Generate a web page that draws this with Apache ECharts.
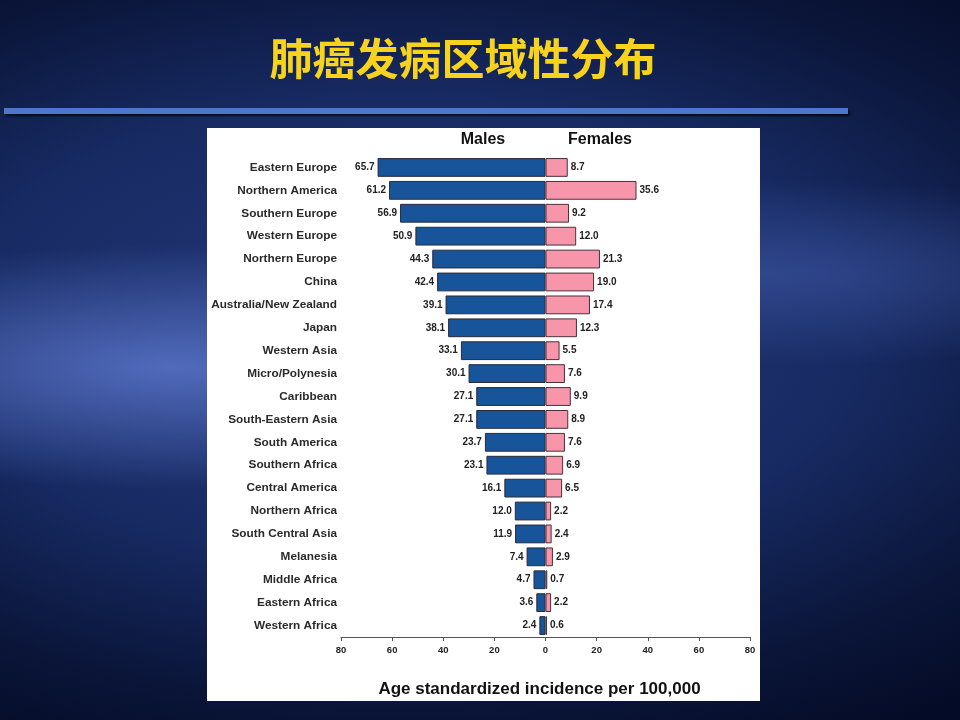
<!DOCTYPE html>
<html lang="zh">
<head>
    <meta charset="UTF-8">
    <title>肺癌发病区域性分布</title>
    <script src="https://cdn.jsdelivr.net/npm/echarts@6/dist/echarts.min.js"></script>
    <style>
        html, body { margin: 0; padding: 0; }
        body {
            width: 960px; height: 720px; overflow: hidden;
            background:
                radial-gradient(ellipse 48% 17% at 18% 51%, rgba(84,110,192,0.95) 0%, rgba(84,110,192,0) 100%),
                radial-gradient(ellipse 55% 13% at 78% 38%, rgba(72,98,180,0.5) 0%, rgba(72,98,180,0) 100%),
                radial-gradient(ellipse 95% 65% at 42% 46%, #25397a 0%, #172a62 50%, #0a1538 80%, #040b26 100%);
        }
    </style>
</head>
<body>
    <div id="main" style="width: 960px; height: 720px;"></div>
    <script>
    var myChart = echarts.init(document.getElementById('main'));

    // 地区
    var regions = [
        'Eastern Europe', 'Northern America', 'Southern Europe', 'Western Europe',
        'Northern Europe', 'China', 'Australia/New Zealand', 'Japan', 'Western Asia',
        'Micro/Polynesia', 'Caribbean', 'South-Eastern Asia', 'South America',
        'Southern Africa', 'Central America', 'Northern Africa', 'South Central Asia',
        'Melanesia', 'Middle Africa', 'Eastern Africa', 'Western Africa'
    ];
    // 男性发病率
    var males = [65.7, 61.2, 56.9, 50.9, 44.3, 42.4, 39.1, 38.1, 33.1, 30.1, 27.1,
                 27.1, 23.7, 23.1, 16.1, 12.0, 11.9, 7.4, 4.7, 3.6, 2.4];
    // 女性发病率
    var females = [8.7, 35.6, 9.2, 12.0, 21.3, 19.0, 17.4, 12.3, 5.5, 7.6, 9.9,
                   8.9, 7.6, 6.9, 6.5, 2.2, 2.4, 2.9, 0.7, 2.2, 0.6];

    var labelFont = 'Liberation Sans, Arial, sans-serif';

    var option = {
        animation: false,
        backgroundColor: 'transparent',
        graphic: [
            {
                type: 'text', z: 10, x: 463, y: 59,
                style: {
                    text: '肺癌发病区域性分布',
                    font: 'bold 43px "Noto Sans CJK SC"',
                    fill: '#f7d31d',
                    align: 'center', verticalAlign: 'middle',
                    shadowColor: 'rgba(0,0,0,0.6)', shadowBlur: 2, shadowOffsetX: 1, shadowOffsetY: 1
                }
            },
            // 标题下的蓝线
            {
                type: 'rect', z: 5,
                shape: { x: 4, y: 108, width: 844, height: 6 },
                style: { fill: '#4d77cc', shadowColor: 'rgba(0,0,0,0.7)', shadowBlur: 2, shadowOffsetX: 2, shadowOffsetY: 2 }
            },
            // 白色图片区
            {
                type: 'rect', z: -10,
                shape: { x: 207, y: 128, width: 553, height: 573 },
                style: { fill: '#ffffff' }
            },
            {
                type: 'text', z: 10, x: 483, y: 140,
                style: { text: 'Males', font: 'bold 16px ' + labelFont, fill: '#111', align: 'center', verticalAlign: 'middle' }
            },
            {
                type: 'text', z: 10, x: 600, y: 140,
                style: { text: 'Females', font: 'bold 16px ' + labelFont, fill: '#111', align: 'center', verticalAlign: 'middle' }
            }
        ],
        grid: {
            left: 341,
            right: 210,
            top: 156,
            bottom: 83,
            containLabel: false
        },
        xAxis: {
            type: 'value',
            min: -80,
            max: 80,
            interval: 20,
            name: 'Age standardized incidence per 100,000',
            nameLocation: 'middle',
            nameGap: 44,
            nameTextStyle: {
                fontFamily: labelFont, fontWeight: 'bold', fontSize: 17, color: '#111',
                padding: [0, 12, 0, 0]
            },
            axisLine: { show: true, lineStyle: { color: '#555', width: 1 } },
            axisTick: { show: true, length: 4, lineStyle: { color: '#555' } },
            axisLabel: {
                margin: 8,
                fontFamily: labelFont, fontWeight: 'bold', fontSize: 9.5, color: '#222',
                formatter: function (v) { return Math.abs(v); }
            },
            splitLine: { show: false }
        },
        yAxis: {
            type: 'category',
            data: regions,
            inverse: true,
            axisLine: { show: false, onZero: false },
            axisTick: { show: false },
            axisLabel: {
                margin: 4,
                fontFamily: labelFont, fontWeight: 'bold', fontSize: 11.8, color: '#2a2a2a'
            }
        },
        series: [
            {
                name: 'Males',
                type: 'bar',
                barWidth: '82%',
                barGap: '-100%',
                data: males.map(function (v) { return -v; }),
                itemStyle: { color: '#17549a', borderColor: '#2a2a3a', borderWidth: 1 },
                label: {
                    show: true, position: 'left', distance: 3,
                    fontFamily: labelFont, fontWeight: 'bold', fontSize: 10, color: '#222',
                    formatter: function (p) { return Math.abs(p.value).toFixed(1); }
                }
            },
            {
                name: 'Females',
                type: 'bar',
                barWidth: '82%',
                barGap: '-100%',
                data: females,
                itemStyle: { color: '#f795aa', borderColor: '#4a3038', borderWidth: 1 },
                label: {
                    show: true, position: 'right', distance: 3,
                    fontFamily: labelFont, fontWeight: 'bold', fontSize: 10, color: '#222',
                    formatter: function (p) { return p.value.toFixed(1); }
                }
            }
        ]
    };

    myChart.setOption(option);
    </script>
</body>
</html>
